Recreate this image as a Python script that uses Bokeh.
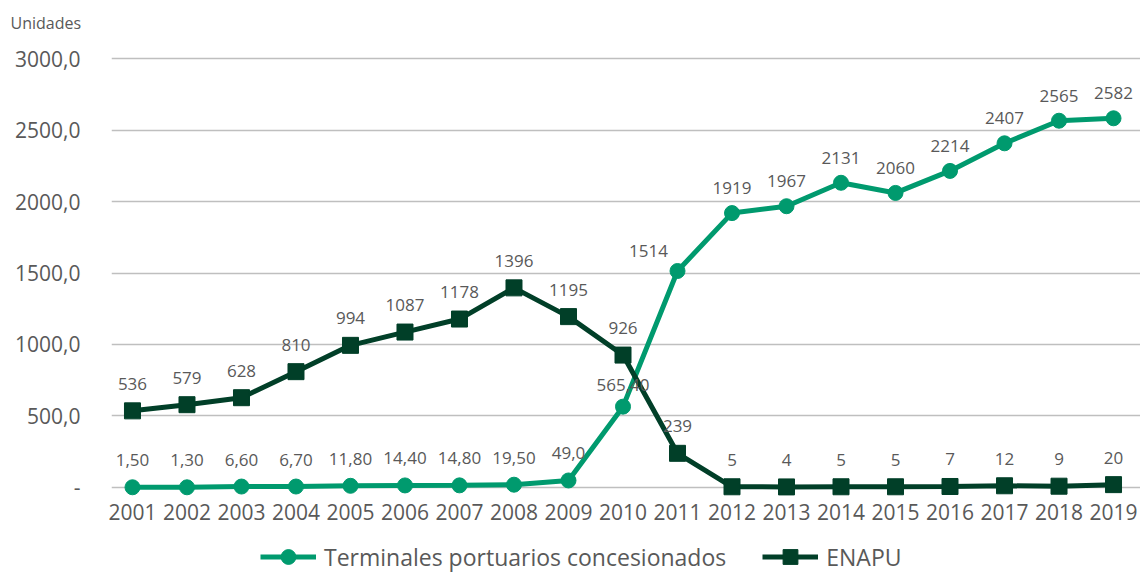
from bokeh.plotting import figure
from bokeh.layouts import column
from bokeh.models import (ColumnDataSource, Range1d, FixedTicker, Legend, LegendItem,
                          Title, LabelSet)
from bokeh.core.properties import value
from bokeh.embed import file_html
from bokeh.resources import INLINE

years = list(range(2001, 2020))
terminales = [1.5, 1.3, 6.6, 6.7, 11.8, 14.4, 14.8, 19.5, 49.0, 565.4,
              1514, 1919, 1967, 2131, 2060, 2214, 2407, 2565, 2582]
terminales_labels = ["1,50", "1,30", "6,60", "6,70", "11,80", "14,40", "14,80", "19,50",
                     "49,0", "565,40", "1514", "1919", "1967", "2131", "2060", "2214",
                     "2407", "2565", "2582"]
enapu = [536, 579, 628, 810, 994, 1087, 1178, 1396, 1195, 926,
         239, 5, 4, 5, 5, 7, 12, 9, 20]
enapu_labels = [str(v) for v in enapu]
y_ticks = [0, 500, 1000, 1500, 2000, 2500, 3000]
y_tick_labels = ["-", "500,0", "1000,0", "1500,0", "2000,0", "2500,0", "3000,0"]

TEAL = "#009A6E"
DARK = "#013F28"
GREY_TXT = "#595959"
FONT = "Open Sans"

p = figure(width=1140, height=535, output_backend="svg", toolbar_location=None,
           x_range=Range1d(2000.615, 2019.495), y_range=Range1d(-91, 3126),
           min_border_left=111, min_border_right=0, min_border_top=40,
           min_border_bottom=35)
p.outline_line_color = None
p.background_fill_color = "white"
p.border_fill_color = "white"

# axes
p.xaxis.ticker = FixedTicker(ticks=years)
p.xaxis.axis_line_color = None
p.xaxis.major_tick_line_color = None
p.xaxis.minor_tick_line_color = None
p.xaxis.major_tick_out = 0
p.xaxis.major_tick_in = 0
p.xaxis.major_label_standoff = 3
p.xaxis.major_label_text_font = FONT
p.xaxis.major_label_text_font_size = "21px"
p.xaxis.major_label_text_color = GREY_TXT

p.yaxis.ticker = FixedTicker(ticks=y_ticks)
p.yaxis.major_label_overrides = {t: l for t, l in zip(y_ticks, y_tick_labels)}
p.yaxis.axis_line_color = None
p.yaxis.major_tick_line_color = None
p.yaxis.minor_tick_line_color = None
p.yaxis.major_tick_out = 0
p.yaxis.major_tick_in = 0
p.yaxis.major_label_standoff = 31
p.yaxis.major_label_text_font = FONT
p.yaxis.major_label_text_font_size = "21px"
p.yaxis.major_label_text_color = GREY_TXT

p.xgrid.grid_line_color = None
p.ygrid.ticker = FixedTicker(ticks=y_ticks)
p.ygrid.grid_line_color = "#BFBFBF"
p.ygrid.grid_line_width = 1.3

# title
t = Title(text="Unidades", align="left", offset=-101, text_font=FONT,
          text_font_size="16px", text_font_style="normal", text_color=GREY_TXT,
          standoff=13)
p.add_layout(t, "above")

src_t = ColumnDataSource(dict(x=years, y=terminales, lab=terminales_labels,
                              xo=[0] * 10 + [-29] + [0] * 8,
                              yo=[27] * 9 + [22, 20] + [25] * 8))
src_e = ColumnDataSource(dict(x=years, y=enapu, lab=enapu_labels,
                              xo=[0] * 19, yo=[27] * 19))

def draw(fig):
    lt = fig.line("x", "y", source=src_t, line_color=TEAL, line_width=5)
    st = fig.scatter("x", "y", source=src_t, marker="circle", size=15,
                     fill_color=TEAL, line_color=TEAL)
    le = fig.line("x", "y", source=src_e, line_color=DARK, line_width=5)
    se = fig.scatter("x", "y", source=src_e, marker="square", size=16,
                     fill_color=DARK, line_color=DARK)
    return lt, st, le, se

draw(p)

for src in (src_t, src_e):
    lbl = LabelSet(x="x", y="y", text="lab", source=src, x_offset="xo", y_offset="yo",
                   text_align="center", text_baseline="middle", text_font=value(FONT),
                   text_font_size=value("17px"), text_color=GREY_TXT)
    p.add_layout(lbl)

# legend strip below the chart (its own renderers lie outside its visible range)
pl = figure(width=1140, height=40, output_backend="svg", toolbar_location=None,
            x_range=Range1d(0, 1), y_range=Range1d(0, 1),
            min_border_left=0, min_border_right=0, min_border_top=0, min_border_bottom=0)
pl.axis.visible = False
pl.grid.visible = False
pl.outline_line_color = None
lt, st, le, se = draw(pl)

legend = Legend(items=[LegendItem(label="Terminales portuarios concesionados", renderers=[lt, st]),
                       LegendItem(label="ENAPU", renderers=[le, se])],
                orientation="horizontal", location=(149, 0),
                label_text_font=FONT, label_text_font_size="23px",
                label_text_color=GREY_TXT, glyph_width=56, glyph_height=37,
                spacing=36, border_line_color=None, background_fill_alpha=0,
                label_standoff=8, padding=0, margin=0)
pl.add_layout(legend)

layout = column(p, pl, spacing=0)
open("out.html", "w").write(file_html(layout, INLINE))
